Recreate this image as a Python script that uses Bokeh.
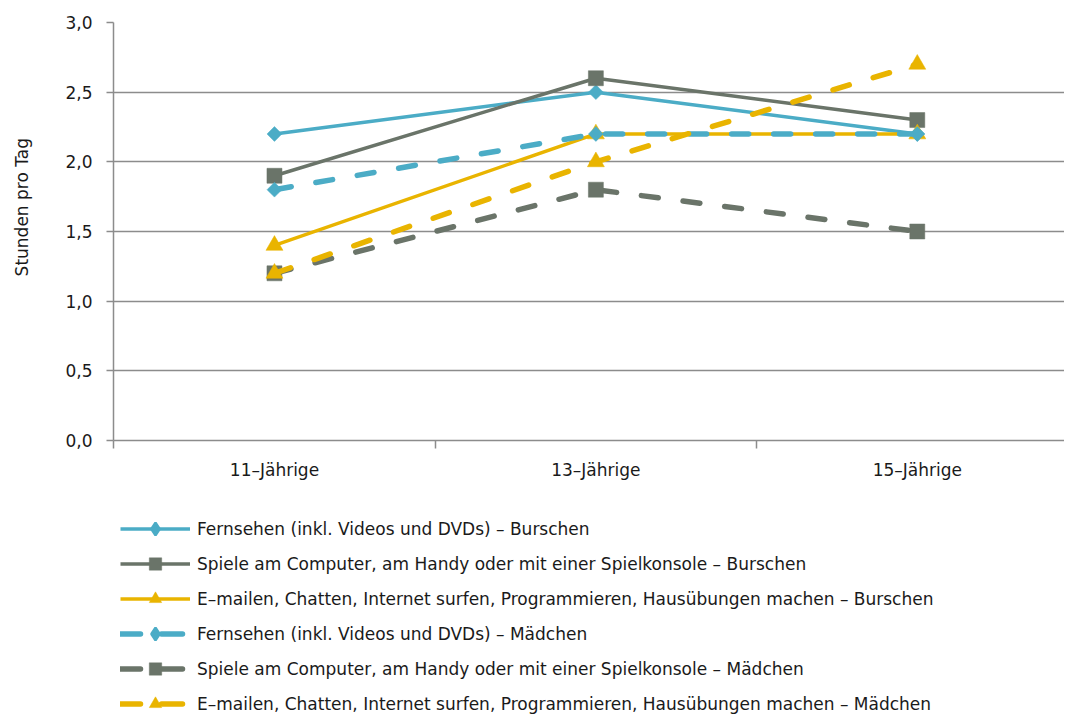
import math
from bokeh.plotting import figure
from bokeh.layouts import column
from bokeh.models import (Range1d, FixedTicker, Legend, LegendItem)
from bokeh.embed import file_html
from bokeh.resources import INLINE

categories = ["11–Jährige", "13–Jährige", "15–Jährige"]
series_names = [
    "Fernsehen (inkl. Videos und DVDs) – Burschen",
    "Spiele am Computer, am Handy oder mit einer Spielkonsole – Burschen",
    "E–mailen, Chatten, Internet surfen, Programmieren, Hausübungen machen – Burschen",
    "Fernsehen (inkl. Videos und DVDs) – Mädchen",
    "Spiele am Computer, am Handy oder mit einer Spielkonsole – Mädchen",
    "E–mailen, Chatten, Internet surfen, Programmieren, Hausübungen machen – Mädchen",
]
tv_boys = [2.2, 2.5, 2.2]
games_boys = [1.9, 2.6, 2.3]
mail_boys = [1.4, 2.2, 2.2]
tv_girls = [1.8, 2.2, 2.2]
games_girls = [1.2, 1.8, 1.5]
mail_girls = [1.2, 2.0, 2.7]
y_ticks = [0.0, 0.5, 1.0, 1.5, 2.0, 2.5, 3.0]
y_tick_labels = ["0,0", "0,5", "1,0", "1,5", "2,0", "2,5", "3,0"]
y_title = "Stunden pro Tag"

BLUE = "#4bacc6"
GRAY = "#6a7469"
YELLOW = "#e9b400"
AXIS = "#8c8c8c"
TXT = "#1a1a1a"
FONT = "DejaVu Sans"
FS = "17px"

W = 1064
TOP_H = 490
LEG_H = 224

p = figure(width=W, height=TOP_H, output_backend="svg", toolbar_location=None,
           x_range=Range1d(-0.5008, 2.458), y_range=Range1d(0, 3.0),
           min_border_left=113, min_border_top=22, min_border_right=0,
           min_border_bottom=TOP_H - 440)
p.outline_line_color = None
p.background_fill_color = "white"

# x axis: category labels at centres, tick marks between categories
p.xaxis.ticker = FixedTicker(ticks=[0, 1, 2], minor_ticks=[-0.5, 0.5, 1.5, 2.5])
p.xaxis.major_label_overrides = {i: c for i, c in enumerate(categories)}
p.xaxis.major_tick_out = 0
p.xaxis.major_tick_in = 0
p.xaxis.minor_tick_out = 8
p.xaxis.minor_tick_in = 0
p.xaxis.minor_tick_line_color = AXIS
p.xaxis.minor_tick_line_width = 1.5
p.xaxis.axis_line_color = AXIS
p.xaxis.axis_line_width = 1.5
p.xaxis.major_label_standoff = 11
p.xaxis.major_label_text_font = FONT
p.xaxis.major_label_text_font_size = FS
p.xaxis.major_label_text_color = TXT

p.yaxis.ticker = FixedTicker(ticks=y_ticks)
p.yaxis.major_label_overrides = {t: l for t, l in zip(y_ticks, y_tick_labels)}
p.yaxis.minor_tick_line_color = None
p.yaxis.major_tick_out = 7
p.yaxis.major_tick_in = 0
p.yaxis.major_tick_line_color = AXIS
p.yaxis.major_tick_line_width = 1.5
p.yaxis.axis_line_color = AXIS
p.yaxis.axis_line_width = 1.5
p.yaxis.major_label_standoff = 14
p.yaxis.major_label_text_font = FONT
p.yaxis.major_label_text_font_size = FS
p.yaxis.major_label_text_color = TXT
p.yaxis.axis_label = "\u00a0" * 9 + y_title
p.yaxis.axis_label_text_font = FONT
p.yaxis.axis_label_text_font_size = FS
p.yaxis.axis_label_text_font_style = "normal"
p.yaxis.axis_label_text_color = TXT
p.yaxis.axis_label_standoff = 30

p.xgrid.grid_line_color = None
p.ygrid.ticker = FixedTicker(ticks=y_ticks)
p.ygrid.grid_line_color = AXIS
p.ygrid.grid_line_width = 1.5

# legend figure: same series, drawn out of view, only its legend shows
lf = figure(width=W, height=LEG_H, output_backend="svg", toolbar_location=None,
            x_range=Range1d(100, 101), y_range=Range1d(100, 101),
            x_axis_location=None, y_axis_location=None,
            min_border=0)
lf.outline_line_color = None
lf.xgrid.visible = False
lf.ygrid.visible = False

xs = [0, 1, 2]
DIAM = math.pi / 4
DASH = "17 25"
LEG_DASH = "20 21 21 30"
# (values, colour, plot marker, angle, legend marker, dashed, line width, size)
specs = [
    (tv_boys, BLUE, "square", DIAM, "diamond", False, 3.5, 10.5),
    (games_boys, GRAY, "square", 0, "square", False, 3.5, 15),
    (mail_boys, YELLOW, "triangle", 0, "triangle", False, 3.5, 17),
    (tv_girls, BLUE, "square", DIAM, "diamond", True, 5.5, 10.5),
    (games_girls, GRAY, "square", 0, "square", True, 5.5, 15),
    (mail_girls, YELLOW, "triangle", 0, "triangle", True, 5.5, 17),
]
items = []
for name, (vals, color, marker, ang, lmarker, dashed, lw, size) in zip(series_names, specs):
    kw = dict(line_color=color, line_width=lw)
    lkw = dict(kw)
    if dashed:
        kw.update(line_dash=DASH, line_cap="round")
        lkw.update(line_dash=LEG_DASH, line_cap="round")
    p.line(xs, vals, **kw)
    p.scatter(xs, vals, marker=marker, size=size, angle=ang,
              fill_color=color, line_color=color, line_width=0.5)
    lr = lf.line(xs, vals, **lkw)
    sr = lf.scatter(xs, vals, marker=lmarker, size=size,
                    fill_color=color, line_color=color,
                    line_width=2.5 if lmarker == "diamond" else 0.5)
    items.append(LegendItem(label=name, renderers=[lr, sr]))

legend = Legend(items=items, location=(7, -5), orientation="vertical",
                glyph_width=70, glyph_height=31, label_height=18, spacing=4,
                label_standoff=7, padding=0, margin=0,
                background_fill_alpha=0, border_line_alpha=0,
                label_text_font=FONT, label_text_font_size=FS,
                label_text_color=TXT)
lf.add_layout(legend, "center")

layout = column(p, lf, spacing=0)
open("out.html", "w").write(file_html(layout, INLINE))
